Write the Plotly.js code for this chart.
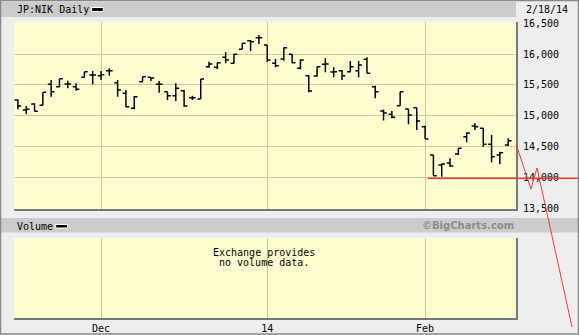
<!DOCTYPE html>
<html><head><meta charset="utf-8">
<script src="https://cdn.plot.ly/plotly-3.0.1.min.js"></script>
<style>html,body{margin:0;padding:0;background:#eeeeee;} #chart{width:579px;height:335px;}</style>
</head><body><div id="chart"></div>
<script>
// Trading days shown (JP:NIK daily), Nov 18 2013 – Feb 18 2014
const dates = ['11/18','11/19','11/20','11/21','11/22','11/25','11/26','11/27','11/28','11/29',
  '12/2','12/3','12/4','12/5','12/6','12/9','12/10','12/11','12/12','12/13',
  '12/16','12/17','12/18','12/19','12/20','12/24','12/25','12/26','12/27','12/30',
  '1/6','1/7','1/8','1/9','1/10','1/14','1/15','1/16','1/17','1/20',
  '1/21','1/22','1/23','1/24','1/27','1/28','1/29','1/30','1/31','2/3',
  '2/4','2/5','2/6','2/7','2/10','2/12','2/13','2/14','2/17','2/18'];
const open = [15256,15094,15191,15170,15510,15471,15515,15471,15623,15660,
  15650,15730,15536,15364,15122,15552,15623,15510,15390,15326,
  15407,15293,15272,15795,15785,15947,15850,16076,16215,16264,
  16146,15850,15919,15995,15769,15649,15644,15833,15709,15730,
  15714,15730,15914,15471,15078,15025,15164,15111,15132,14824,
  14367,14205,14237,14383,14663,14836,14799,14540,14367,14529];
const high = [15267,15159,15203,15381,15580,15601,15568,15526,15714,15725,
  15725,15769,15580,15418,15321,15633,15623,15563,15390,15526,
  15418,15326,15596,15876,15859,16027,16000,16173,16226,16307,
  16146,15919,16108,16000,15914,15660,15795,15930,15785,15741,
  15887,15887,15947,15487,15103,15078,15390,15111,15132,14841,
  14367,14232,14313,14475,14734,14879,14799,14690,14420,14637];
const low = [15106,15030,15073,15170,15310,15462,15445,15407,15617,15510,
  15580,15649,15310,15138,15106,15552,15563,15374,15256,15240,
  15148,15256,15272,15779,15757,15850,15850,16076,16048,16162,
  15875,15785,15892,15850,15753,15381,15633,15704,15623,15580,
  15704,15623,15688,15284,14925,14960,15164,14863,14771,14626,
  14032,14016,14177,14367,14572,14771,14501,14249,14216,14512];
const close = [15159,15106,15073,15381,15390,15601,15515,15429,15714,15660,
  15665,15730,15418,15148,15310,15633,15612,15510,15326,15445,
  15159,15293,15596,15838,15859,15903,15995,16173,16199,16264,
  15903,15811,16102,15859,15903,15402,15795,15838,15714,15649,
  15795,15822,15688,15390,15046,14976,15390,15014,14917,14626,
  14032,14221,14189,14475,14723,14824,14540,14339,14404,14598];
const monthTickIdx = [10, 30, 49];
const monthTickText = ['Dec', '14', 'Feb'];
const priceTicks = [13500, 14000, 14500, 15000, 15500, 16000, 16500];
// hand-drawn red annotation lines (trading-day index, price)
const supportX = [49.3, 68];
const supportY = [13990, 13990];
const projX = [59.94, 61.74, 62.47, 66.68];
const projY = [14545, 13817, 14157, 11586];
// no volume data is provided by the exchange
const volume = [];

const W = 579, H = 335;
const px = v => v / W;
const py = v => 1 - v / H;
const dayIdx = dates.map((d, i) => i);

const xRange = [-0.47, 59.94];
const xDom = [px(14), px(516)];
const yRange = [13495, 16510];
const yDom = [py(208.9), py(22.46)];
const vDom = [py(318), py(238)];
// overlay axes covering the whole figure with the same scales
const sx = (xRange[1] - xRange[0]) / (xDom[1] - xDom[0]);
const sy = (yRange[1] - yRange[0]) / (yDom[1] - yDom[0]);
const x3Range = [xRange[0] - xDom[0] * sx, xRange[1] + (1 - xDom[1]) * sx];
const y3Range = [yRange[0] - yDom[0] * sy, yRange[1] + (1 - yDom[1]) * sy];
// pixel-crisp paper position of a trading-day index (for volume-panel gridlines)
const idxToCrispPaper = t => (Math.round((xDom[0] + (t - xRange[0]) / sx) * W) + 0.5) / W;

const MONO = 'DejaVu Sans Mono';
const grid = '#CCCC99';
const edge = '#777777';

const traces = [
  {type: 'ohlc', x: dayIdx, open: open, high: high, low: low, close: close,
   xaxis: 'x', yaxis: 'y', tickwidth: 0.4, hoverinfo: 'skip',
   increasing: {line: {color: '#000000', width: 1.5}},
   decreasing: {line: {color: '#000000', width: 1.5}}},
  {type: 'bar', x: volume.map((v, i) => i), y: volume, xaxis: 'x2', yaxis: 'y2', hoverinfo: 'skip'},
  {type: 'scatter', mode: 'lines', x: supportX, y: supportY, xaxis: 'x3', yaxis: 'y3',
   line: {color: '#FF3333', width: 1.5}, hoverinfo: 'skip'},
  {type: 'scatter', mode: 'lines', x: projX, y: projY, xaxis: 'x3', yaxis: 'y3',
   line: {color: '#FF3333', width: 1}, hoverinfo: 'skip'}
];

const rect = (x0, y0, x1, y1, fill, line, layer) => ({type: 'rect', xref: 'paper', yref: 'paper',
  x0: px(x0), x1: px(x1), y0: py(y0), y1: py(y1), fillcolor: fill,
  line: line || {width: 0}, layer: layer || 'below'});

// vertical month gridlines in the volume panel, placed on the month ticks
const volGrid = monthTickIdx.map(t => ({type: 'line', xref: 'paper', yref: 'paper',
  x0: idxToCrispPaper(t), x1: idxToCrispPaper(t), y0: vDom[0], y1: vDom[1],
  line: {color: '#C4C48E', width: 1}, layer: 'above'}));

const layout = {
  width: W, height: H, margin: {l: 0, r: 0, t: 0, b: 0},
  paper_bgcolor: '#EEEEEE', plot_bgcolor: 'rgba(0,0,0,0)',
  showlegend: false, font: {family: MONO, size: 10, color: '#000'},
  xaxis: {domain: xDom, range: xRange, anchor: 'y', tickvals: monthTickIdx, showticklabels: false,
    showgrid: true, gridcolor: grid, gridwidth: 1, zeroline: false, ticks: '',
    showline: true, linecolor: edge, linewidth: 2, rangeslider: {visible: false}, fixedrange: true},
  yaxis: {domain: yDom, range: yRange, anchor: 'x', side: 'right', tickvals: priceTicks,
    tickformat: ',d', showgrid: true, gridcolor: grid, gridwidth: 1, zeroline: false, ticks: '',
    ticklabelstandoff: 3, showline: true, linecolor: edge, linewidth: 2, fixedrange: true,
    tickfont: {family: MONO, size: 10, color: '#000'}},
  xaxis2: {domain: xDom, range: xRange, anchor: 'y2', tickvals: monthTickIdx, ticktext: monthTickText,
    showgrid: true, gridcolor: grid, gridwidth: 1, zeroline: false, ticks: '', tickmode: 'array',
    showline: true, linecolor: edge, linewidth: 2, fixedrange: true, ticklabelstandoff: 0,
    rangeslider: {visible: false},
    tickfont: {family: MONO, size: 10, color: '#000'}},
  yaxis2: {domain: vDom, range: [0, 1], anchor: 'x2', side: 'right', showgrid: false, zeroline: false,
    showticklabels: false, ticks: '', showline: true, linecolor: edge, linewidth: 2, fixedrange: true},
  xaxis3: {domain: [0, 1], range: x3Range, anchor: 'y3', visible: false, fixedrange: true},
  yaxis3: {domain: [0, 1], range: y3Range, anchor: 'x3', visible: false, fixedrange: true},
  shapes: [
    rect(1, 2, 516, 17, '#CCCCCC'),
    rect(1, 218, 578, 232.5, '#CCCCCC'),
    rect(14, 22.5, 516, 208.9, '#FFFFD2'),
    rect(14, 238, 516, 318, '#FFFFD2')
  ].concat(volGrid).concat([
    rect(91.7, 7.5, 103.3, 11.5, '#000000', {color: '#FFFFFF', width: 1}, 'above'),
    rect(55.7, 224.5, 67.7, 228, '#000000', {color: '#FFFFFF', width: 1}, 'above'),
    rect(0.5, 0.5, 578.5, 334, 'rgba(0,0,0,0)', {color: '#888888', width: 1.5}, 'above')
  ]),
  annotations: [
    {xref: 'paper', yref: 'paper', x: px(15), y: py(10), xanchor: 'left', yanchor: 'middle',
     text: 'JP:NIK Daily', showarrow: false, font: {family: MONO, size: 10, color: '#000'}},
    {xref: 'paper', yref: 'paper', x: px(524), y: py(10), xanchor: 'left', yanchor: 'middle',
     text: '2/18/14', showarrow: false, font: {family: MONO, size: 10, color: '#000'}},
    {xref: 'paper', yref: 'paper', x: px(15), y: py(226), xanchor: 'left', yanchor: 'middle',
     text: 'Volume', showarrow: false, font: {family: MONO, size: 10, color: '#000'}},
    {xref: 'paper', yref: 'paper', x: px(516), y: py(225.5), xanchor: 'right', yanchor: 'middle',
     text: '©BigCharts.com', showarrow: false, font: {family: 'DejaVu Sans', size: 10, color: '#8C8C8C', weight: 'bold'}},
    {xref: 'paper', yref: 'paper', x: px(263.5), y: py(252), xanchor: 'center', yanchor: 'middle',
     text: 'Exchange provides', showarrow: false, font: {family: MONO, size: 10, color: '#000'}},
    {xref: 'paper', yref: 'paper', x: px(263.5), y: py(262), xanchor: 'center', yanchor: 'middle',
     text: 'no volume data.', showarrow: false, font: {family: MONO, size: 10, color: '#000'}}
  ]
};

Plotly.newPlot('chart', traces, layout, {staticPlot: true, displayModeBar: false});
</script></body></html>
